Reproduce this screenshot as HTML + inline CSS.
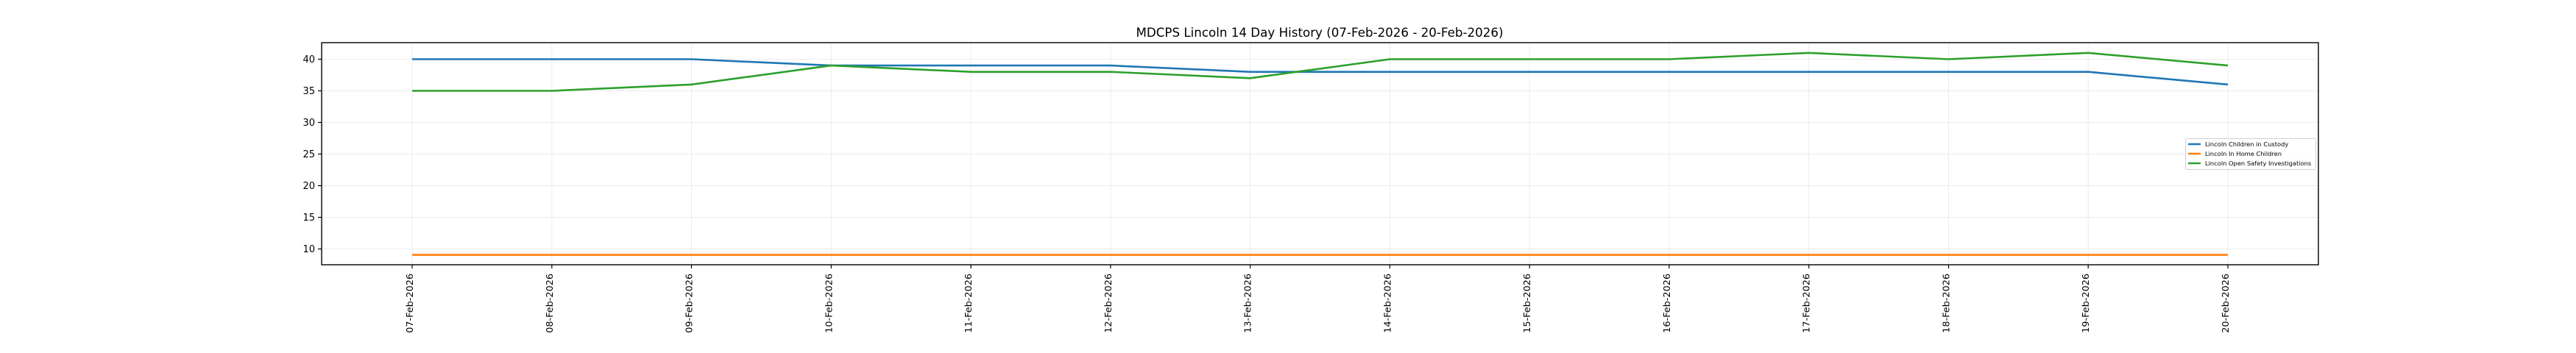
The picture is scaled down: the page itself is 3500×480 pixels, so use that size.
<!DOCTYPE html>
<html><head><meta charset="utf-8"><style>
html,body{margin:0;padding:0;background:#fff;}
svg{display:block;}
text{font-family:"DejaVu Sans","Liberation Sans",sans-serif;fill:#000;}
</style></head><body>
<svg width="3500" height="480" viewBox="0 0 3500 480" xmlns="http://www.w3.org/2000/svg">
<rect width="3500" height="480" fill="#fff"/>
<text x="1793" y="50" font-size="16.7" text-anchor="middle">MDCPS Lincoln 14 Day History (07-Feb-2026 - 20-Feb-2026)</text>
<g stroke="#ebebeb" stroke-width="1">
<line x1="437" x2="3150" y1="80.5" y2="80.5"/><line x1="437" x2="3150" y1="123.5" y2="123.5"/><line x1="437" x2="3150" y1="166.5" y2="166.5"/><line x1="437" x2="3150" y1="209.5" y2="209.5"/><line x1="437" x2="3150" y1="252.5" y2="252.5"/><line x1="437" x2="3150" y1="295.5" y2="295.5"/><line x1="437" x2="3150" y1="338.5" y2="338.5"/>
<line y1="58" y2="360" x1="560" x2="560"/><line y1="58" y2="360" x1="749.8" x2="749.8"/><line y1="58" y2="360" x1="939.5" x2="939.5"/><line y1="58" y2="360" x1="1129.3" x2="1129.3"/><line y1="58" y2="360" x1="1319.1" x2="1319.1"/><line y1="58" y2="360" x1="1508.9" x2="1508.9"/><line y1="58" y2="360" x1="1698.6" x2="1698.6"/><line y1="58" y2="360" x1="1888.4" x2="1888.4"/><line y1="58" y2="360" x1="2078.2" x2="2078.2"/><line y1="58" y2="360" x1="2267.9" x2="2267.9"/><line y1="58" y2="360" x1="2457.7" x2="2457.7"/><line y1="58" y2="360" x1="2647.5" x2="2647.5"/><line y1="58" y2="360" x1="2837.2" x2="2837.2"/><line y1="58" y2="360" x1="3027" x2="3027"/>
</g>
<g fill="none" stroke-width="2.6" stroke-linejoin="round">
<polyline stroke="#1f77b4" points="560,80.5 749.8,80.5 939.5,80.5 1129.3,89.1 1319.1,89.1 1508.9,89.1 1698.6,97.7 1888.4,97.7 2078.2,97.7 2267.9,97.7 2457.7,97.7 2647.5,97.7 2837.2,97.7 3027,114.9"/>
<polyline stroke="#ff7f0e" points="560,346.6 3027,346.6"/>
<polyline stroke="#2ca02c" points="560,123.5 749.8,123.5 939.5,114.9 1129.3,89.1 1319.1,97.7 1508.9,97.7 1698.6,106.3 1888.4,80.5 2078.2,80.5 2267.9,80.5 2457.7,71.9 2647.5,80.5 2837.2,71.9 3027,89.1"/>
</g>
<rect x="437" y="58" width="2713" height="302" fill="none" stroke="#000" stroke-width="1.4"/>
<g stroke="#000" stroke-width="1.2">
<line x1="432" x2="437" y1="80.5" y2="80.5"/><line x1="432" x2="437" y1="123.5" y2="123.5"/><line x1="432" x2="437" y1="166.5" y2="166.5"/><line x1="432" x2="437" y1="209.5" y2="209.5"/><line x1="432" x2="437" y1="252.5" y2="252.5"/><line x1="432" x2="437" y1="295.5" y2="295.5"/><line x1="432" x2="437" y1="338.5" y2="338.5"/>
<line y1="360" y2="365" x1="560" x2="560"/><line y1="360" y2="365" x1="749.8" x2="749.8"/><line y1="360" y2="365" x1="939.5" x2="939.5"/><line y1="360" y2="365" x1="1129.3" x2="1129.3"/><line y1="360" y2="365" x1="1319.1" x2="1319.1"/><line y1="360" y2="365" x1="1508.9" x2="1508.9"/><line y1="360" y2="365" x1="1698.6" x2="1698.6"/><line y1="360" y2="365" x1="1888.4" x2="1888.4"/><line y1="360" y2="365" x1="2078.2" x2="2078.2"/><line y1="360" y2="365" x1="2267.9" x2="2267.9"/><line y1="360" y2="365" x1="2457.7" x2="2457.7"/><line y1="360" y2="365" x1="2647.5" x2="2647.5"/><line y1="360" y2="365" x1="2837.2" x2="2837.2"/><line y1="360" y2="365" x1="3027" x2="3027"/>
</g>
<g font-size="13" text-anchor="end">
<text x="428" y="85">40</text><text x="428" y="128">35</text><text x="428" y="171">30</text><text x="428" y="214">25</text><text x="428" y="257">20</text><text x="428" y="300">15</text><text x="428" y="343">10</text>
</g>
<g font-size="12.8" text-anchor="end">
<text transform="translate(561,372) rotate(-90)">07-Feb-2026</text>
<text transform="translate(750.8,372) rotate(-90)">08-Feb-2026</text>
<text transform="translate(940.5,372) rotate(-90)">09-Feb-2026</text>
<text transform="translate(1130.3,372) rotate(-90)">10-Feb-2026</text>
<text transform="translate(1320.1,372) rotate(-90)">11-Feb-2026</text>
<text transform="translate(1509.9,372) rotate(-90)">12-Feb-2026</text>
<text transform="translate(1699.6,372) rotate(-90)">13-Feb-2026</text>
<text transform="translate(1889.4,372) rotate(-90)">14-Feb-2026</text>
<text transform="translate(2079.2,372) rotate(-90)">15-Feb-2026</text>
<text transform="translate(2268.9,372) rotate(-90)">16-Feb-2026</text>
<text transform="translate(2458.7,372) rotate(-90)">17-Feb-2026</text>
<text transform="translate(2648.5,372) rotate(-90)">18-Feb-2026</text>
<text transform="translate(2838.2,372) rotate(-90)">19-Feb-2026</text>
<text transform="translate(3028,372) rotate(-90)">20-Feb-2026</text>
</g>
<rect x="2969.5" y="188.5" width="177" height="42" rx="2" fill="#fff" fill-opacity="0.8" stroke="#d0d0d0" stroke-width="1"/>
<g stroke-width="2.4">
<line x1="2973" x2="2990" y1="196" y2="196" stroke="#1f77b4"/>
<line x1="2973" x2="2990" y1="209" y2="209" stroke="#ff7f0e"/>
<line x1="2973" x2="2990" y1="222" y2="222" stroke="#2ca02c"/>
</g>
<g font-size="8.3" fill="#222">
<text x="2996" y="199">Lincoln Children in Custody</text>
<text x="2996" y="212">Lincoln In Home Children</text>
<text x="2996" y="225">Lincoln Open Safety Investigations</text>
</g>
</svg>
</body></html>
